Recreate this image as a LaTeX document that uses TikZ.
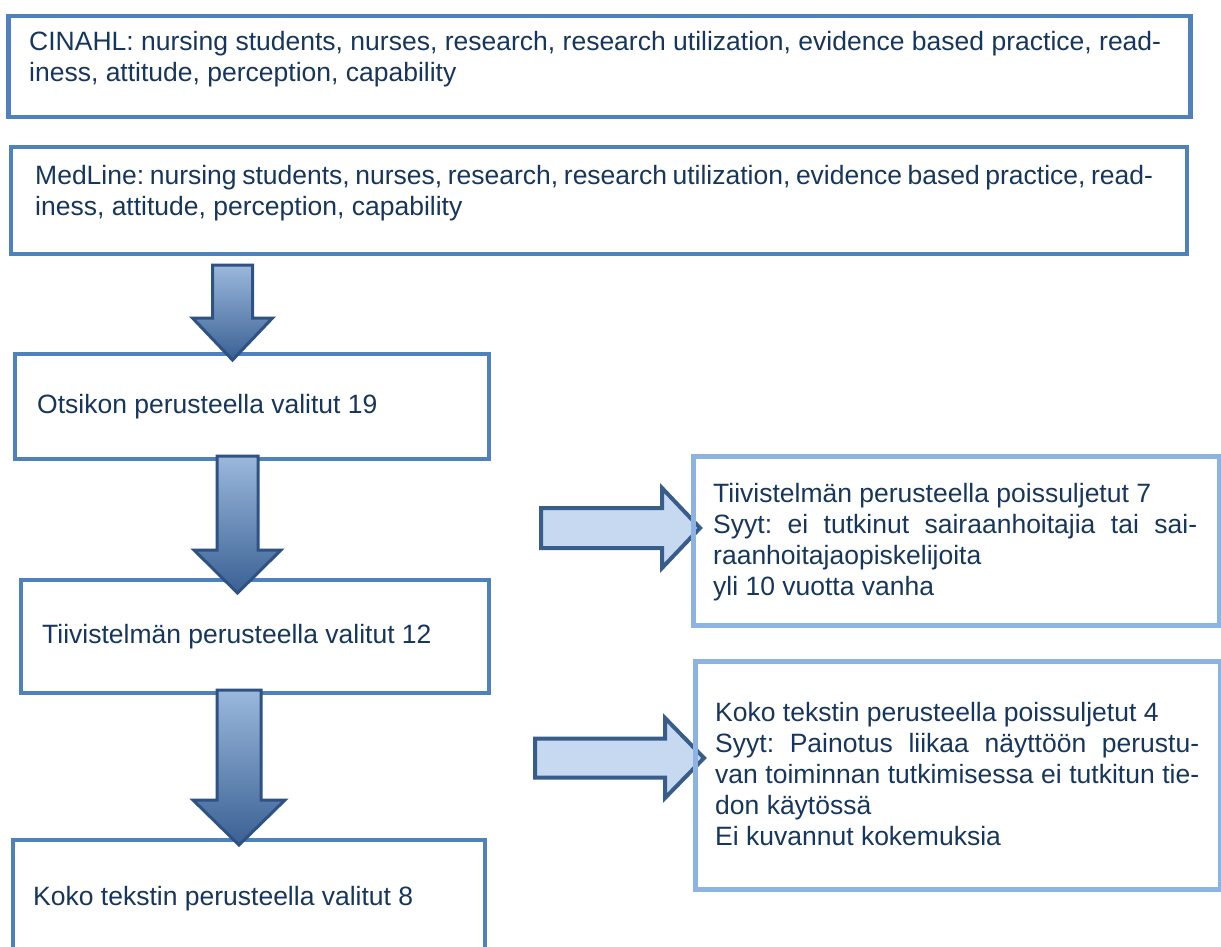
\documentclass[tikz,border=0pt]{standalone}
\usepackage{fontspec}
\setmainfont{Liberation Sans}
\setlength{\parindent}{0pt}
\frenchspacing
\definecolor{boxDark}{HTML}{4F81BD}
\definecolor{boxLight}{HTML}{8DB3E2}
\definecolor{txt}{HTML}{17365D}
\definecolor{arrTop}{HTML}{9BB8DC}
\definecolor{arrMid}{HTML}{4F81BD}
\definecolor{arrBot}{HTML}{3A6194}
\definecolor{arrLine}{HTML}{2E5283}
\definecolor{rFill}{HTML}{C6D9F1}
\definecolor{rLine}{HTML}{385D8A}
\newcommand\dnarrow[6]{%
  \shade[top color=arrTop, middle color=arrMid, bottom color=arrBot, draw=arrLine, line width=3pt, line join=miter]
   ({#1-#2},{#4}) -- ({#1+#2},{#4}) -- ({#1+#2},{#5}) -- ({#1+#3},{#5}) -- ({#1},{#6}) -- ({#1-#3},{#5}) -- ({#1-#2},{#5}) -- cycle;}
\newcommand\rtarrow[6]{%
  \draw[fill=rFill, draw=rLine, line width=4pt, line join=miter]
   ({#1},{#3-#4}) -- ({#5},{#3-#4}) -- ({#5},{#3-#2}) -- ({#6},{#3}) -- ({#5},{#3+#2}) -- ({#5},{#3+#4}) -- ({#1},{#3+#4}) -- cycle;}
\begin{document}
\begin{tikzpicture}[x=1pt,y=-1pt,
  bx/.style={draw=boxDark, line width=4pt, rectangle, inner sep=0pt, anchor=north west},
  bxl/.style={draw=boxLight, line width=4.5pt, rectangle, inner sep=0pt, anchor=north west},
  tx/.style={anchor=north west, inner sep=0pt, text=txt, font=\fontsize{26.5}{31}\selectfont},
]
\useasboundingbox (0,0) rectangle (1221,947);
\clip (0,0) rectangle (1221,947);
\fill[white] (0,0) rectangle (1221,947);

% top boxes
\node[bx, line width=4.5pt, minimum width=1182pt, minimum height=101pt] (b1) at (6,14) {};
\node[tx, text width=1132pt, align=justify] (t1) at (29,{50-21.7})
  {\strut CINAHL: nursing students, nurses, research, research utilization, evidence based practice, read-\linebreak iness, attitude, perception, capability};
\node[bx, minimum width=1176pt, minimum height=107pt] (b2) at (9,145) {};
\node[tx, text width=1118pt, align=justify] (t2) at (35,{184-21.7})
  {\spaceskip=.278em plus .2em minus .13em\strut MedLine: nursing students, nurses, research, research utilization, evidence based practice, read-\linebreak iness, attitude, perception, capability};

% left column boxes
\node[bx, minimum width=474pt, minimum height=105pt] (b3) at (13,352) {};
\node[tx] (t3) at (37,{413-21.7}) {\strut Otsikon perusteella valitut 19};
\node[bx, minimum width=468pt, minimum height=113pt] (b4) at (19,578) {};
\node[tx] (t4) at (42,{643-21.7}) {\strut Tiivistelmän perusteella valitut 12};
\node[bx, minimum width=472pt, minimum height=130pt] (b5) at (11,838) {};
\node[tx] (t5) at (33,{905-21.7}) {\strut Koko tekstin perusteella valitut 8};

% right arrows (below right boxes)
\rtarrow{541}{40}{528}{20}{662}{700}
\rtarrow{535}{40}{758}{19.5}{665}{704}

% right boxes
\node[bxl, minimum width=526pt, minimum height=169pt] (b6) at (691,454) {};
\node[tx, text width=484pt, align=justify] (t6) at (713,{502-21.7})
  {\strut Tiivistelmän perusteella poissuljetut 7\\
   Syyt: ei tutkinut sairaanhoitajia tai sai-\linebreak raanhoitajaopiskelijoita\\
   yli 10 vuotta vanha};
\node[bxl, minimum width=525pt, minimum height=228pt] (b7) at (693,659) {};
\node[tx, text width=484pt, align=justify] (t7) at (715,{721-21.7})
  {\strut Koko tekstin perusteella poissuljetut 4\\
   Syyt: Painotus liikaa näyttöön perustu-\linebreak van toiminnan tutkimisessa ei tutkitun tie-\linebreak don käytössä\\
   Ei kuvannut kokemuksia};

% down arrows
\dnarrow{232.5}{20}{40}{265}{318}{360}
\dnarrow{237.5}{20.5}{43.5}{456}{550}{593}
\dnarrow{239}{22}{46}{690}{800}{845}
\end{tikzpicture}
\end{document}
